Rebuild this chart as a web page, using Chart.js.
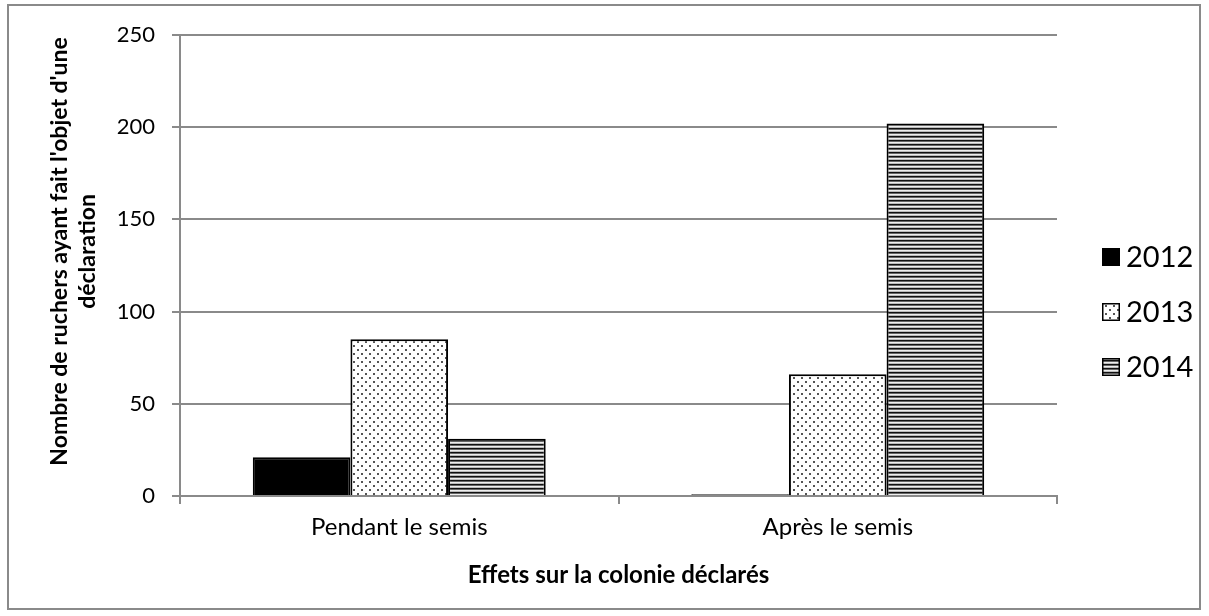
<!DOCTYPE html>
<html>
<head>
<meta charset="utf-8">
<script src="https://cdn.jsdelivr.net/npm/chart.js@4"></script>
<style>
  html, body { margin: 0; padding: 0; background: #fff; }
  #wrap { width: 1209px; height: 616px; }
</style>
</head>
<body>
<div id="wrap"><canvas id="chart" width="1209" height="616"></canvas></div>
<script>
// Declared apiary effects, by period and year
const categories = ["Pendant le semis", "Après le semis"];
const years = ["2012", "2013", "2014"];
const values2012 = [21, 1];
const values2013 = [85, 66];
const values2014 = [31, 202];
const yTicks = [0, 50, 100, 150, 200, 250];
const yTitle = ["Nombre de ruchers ayant fait l'objet d'une", "déclaration"];
const xTitle = "Effets sur la colonie déclarés";

const FONT = "Lato, 'Open Sans', sans-serif";
const GRID = '#8a8a8a';

// Fill patterns: fine staggered dots and narrow horizontal stripes
function dotPattern() {
  const c = document.createElement('canvas');
  c.width = 8; c.height = 8;
  const g = c.getContext('2d');
  g.fillStyle = '#fff'; g.fillRect(0, 0, 8, 8);
  g.fillStyle = '#555';
  g.fillRect(1, 1, 2, 2);
  g.fillRect(5, 5, 2, 2);
  return g.createPattern(c, 'repeat');
}
function stripePattern() {
  const c = document.createElement('canvas');
  c.width = 4; c.height = 4;
  const g = c.getContext('2d');
  const rows = ['#111', '#666', '#eee', '#bbb'];
  rows.forEach((col, i) => { g.fillStyle = col; g.fillRect(0, i, 4, 1); });
  return g.createPattern(c, 'repeat');
}

const fills = ['#000', dotPattern(), stripePattern()];
const series = [values2012, values2013, values2014];

// White background and thin grey outer frame
const framePlugin = {
  id: 'frame',
  beforeDraw(chart) {
    const ctx = chart.ctx;
    ctx.save();
    ctx.fillStyle = '#fff';
    ctx.fillRect(0, 0, chart.width, chart.height);
    ctx.strokeStyle = GRID;
    ctx.lineWidth = 2;
    ctx.strokeRect(8, 5, 1192, 604);
    ctx.restore();
  }
};

// Two-line rotated value-axis title, set slightly above the plot's middle
const yTitlePlugin = {
  id: 'yTitleLines',
  afterDraw(chart) {
    const ctx = chart.ctx;
    const area = chart.chartArea;
    const cy = (area.top + area.bottom) / 2 - 14;
    const lineH = 27.6;
    const x0 = 60;
    ctx.save();
    ctx.fillStyle = '#000';
    ctx.font = 'bold 23px ' + FONT;
    ctx.textAlign = 'center';
    ctx.textBaseline = 'middle';
    yTitle.forEach((line, i) => {
      ctx.save();
      ctx.translate(x0 + i * lineH, cy);
      ctx.rotate(-Math.PI / 2);
      ctx.fillText(line, 0, 0);
      ctx.restore();
    });
    ctx.restore();
  }
};

// Legend drawn to the right of the plot, stacked vertically
const sideLegend = {
  id: 'sideLegend',
  afterDraw(chart) {
    const ctx = chart.ctx;
    const area = chart.chartArea;
    const x0 = area.right + 45;
    const step = 55;
    const mid = 312;
    const n = chart.data.datasets.length;
    ctx.save();
    chart.data.datasets.forEach((ds, i) => {
      const cy = mid + (i - (n - 1) / 2) * step;
      const box = 18;
      ctx.fillStyle = ds.backgroundColor;
      ctx.fillRect(x0, cy - box / 2, box, box);
      ctx.strokeStyle = '#000';
      ctx.lineWidth = 1.5;
      ctx.strokeRect(x0 + 0.75, cy - box / 2 + 0.75, box - 1.5, box - 1.5);
      ctx.fillStyle = '#000';
      ctx.font = '29px ' + FONT;
      ctx.textBaseline = 'middle';
      ctx.textAlign = 'left';
      ctx.fillText(ds.label, x0 + box + 6, cy + 1);
    });
    ctx.restore();
  }
};

new Chart(document.getElementById('chart'), {
  type: 'bar',
  data: {
    labels: categories,
    datasets: years.map((y, i) => ({
      label: y,
      data: series[i],
      backgroundColor: fills[i],
      borderColor: '#000',
      borderWidth: 2,
      categoryPercentage: 0.668,
      barPercentage: 1
    }))
  },
  options: {
    responsive: false,
    animation: false,
    layout: { padding: { left: 30, top: 35, right: 152, bottom: 10 } },
    plugins: { legend: { display: false }, tooltip: { enabled: false } },
    scales: {
      x: {
        grid: { display: true, drawOnChartArea: false, offset: true, tickLength: 8, color: GRID, lineWidth: 2 },
        border: { color: GRID, width: 2 },
        ticks: { color: '#000', font: { family: FONT, size: 24 }, padding: 9 },
        title: {
          display: true, text: xTitle, color: '#000',
          font: { family: FONT, size: 24, weight: 'bold' },
          padding: { top: 4, bottom: 16 }
        },
        afterFit(s) { s.height = 110; }
      },
      y: {
        min: 0, max: 250,
        afterBuildTicks(s) { s.ticks = yTicks.map(v => ({ value: v })); },
        grid: { color: GRID, lineWidth: 2, tickLength: 8 },
        border: { color: GRID, width: 2 },
        ticks: { color: '#000', font: { family: FONT, size: 22 }, padding: 17 },
        afterFit(s) { s.width = 150; }
      }
    }
  },
  plugins: [framePlugin, yTitlePlugin, sideLegend]
});
</script>
</body>
</html>
